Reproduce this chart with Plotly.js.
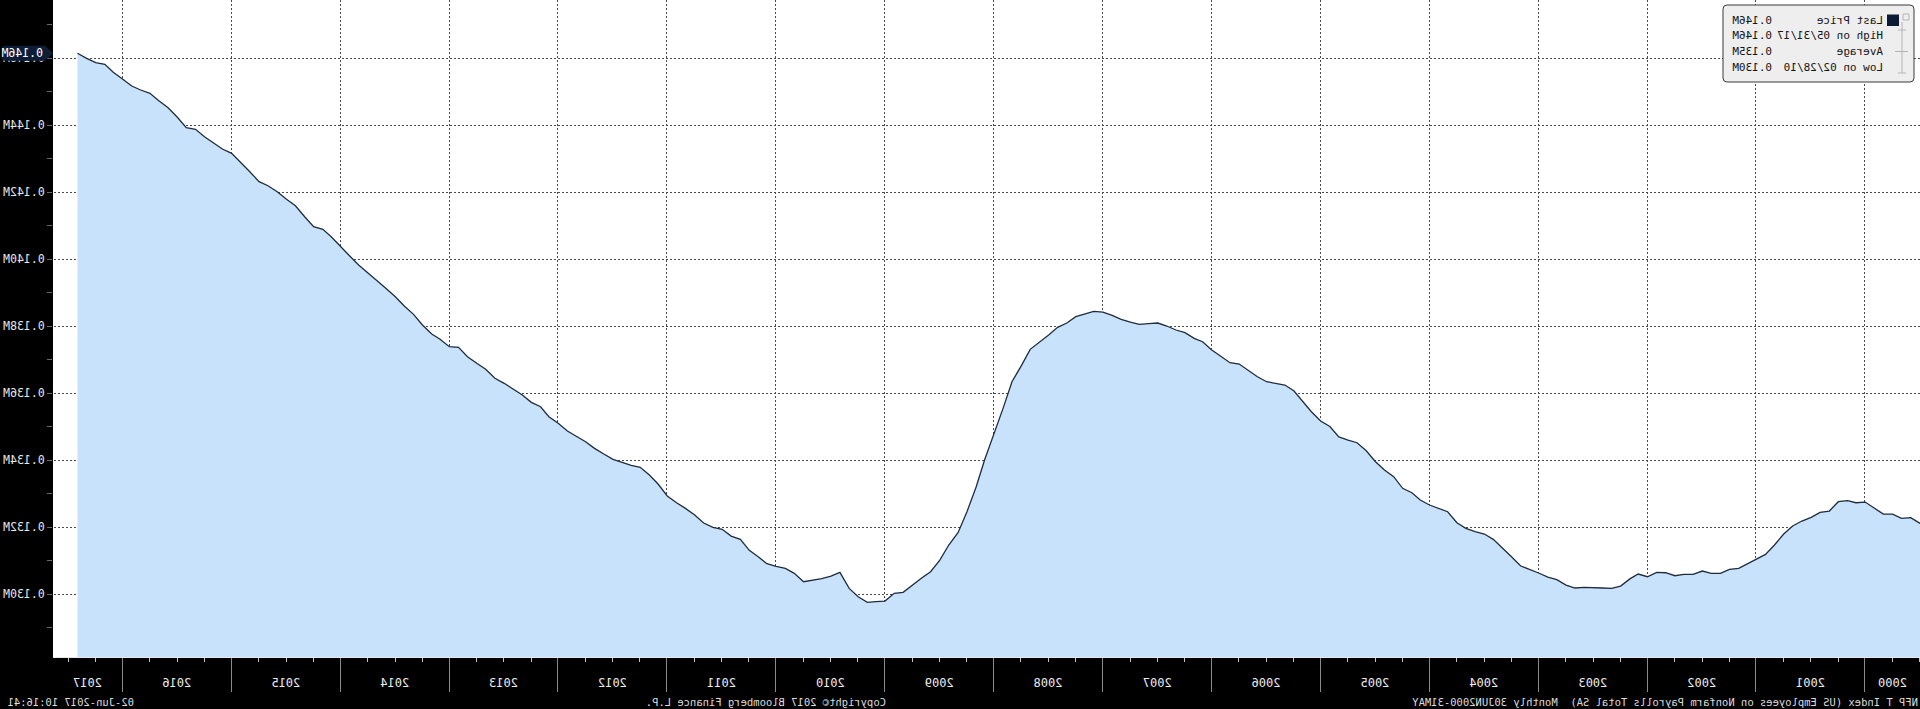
<!DOCTYPE html>
<html>
<head>
<meta charset="utf-8">
<script src="https://cdn.plot.ly/plotly-3.0.1.min.js"></script>
<style>
html,body{margin:0;padding:0;background:#000;overflow:hidden}
#chart{width:1920px;height:709px;transform:scaleX(-1);transform-origin:50% 50%}
</style>
</head>
<body>
<div id="chart"></div>
<script>
// ---- Data: US Nonfarm Payrolls (thousands), monthly, Jun 2000 .. May 2017 ----
const firstYear = 2000;
const firstMonthIndex = 5; // June (0-based)
const nfp2000 = [132120, 132288, 132269, 132397, 132397, 132567, 132755];
const nfp2001 = [132734, 132795, 132765, 132487, 132447, 132298, 132188, 132039, 131800, 131472, 131194, 131054];
const nfp2002 = [130925, 130776, 130746, 130627, 130627, 130696, 130597, 130597, 130556, 130645, 130657, 130526];
const nfp2003 = [130607, 130462, 130248, 130179, 130189, 130209, 130209, 130189, 130278, 130437, 130517, 130637];
const nfp2004 = [130756, 130846, 131123, 131373, 131642, 131800, 131869, 131970, 132138, 132466, 132567, 132666];
const nfp2005 = [132815, 133033, 133165, 133511, 133710, 133958, 134287, 134526, 134606, 134700, 135010, 135173];
const nfp2006 = [135451, 135750, 136078, 136248, 136299, 136347, 136495, 136696, 136875, 136914, 137093, 137293];
const nfp2007 = [137540, 137642, 137810, 137890, 138009, 138099, 138080, 138060, 138128, 138208, 138328, 138427];
const nfp2008 = [138447, 138367, 138287, 138099, 137970, 137740, 137540, 137313, 136820, 136347, 135552, 134755];
const nfp2009 = [134009, 133212, 132466, 131839, 131472, 131024, 130675, 130478, 130278, 130060, 130030, 129800];
const nfp2010 = [129781, 129761, 129929, 130179, 130657, 130547, 130467, 130427, 130376, 130627, 130776, 130836];
const nfp2011 = [130914, 131113, 131313, 131642, 131740, 131940, 132000, 132130, 132368, 132567, 132734, 132935];
const nfp2012 = [133293, 133562, 133791, 133851, 133940, 134030, 134188, 134358, 134556, 134725, 134875, 135105];
const nfp2013 = [135302, 135600, 135731, 135950, 136138, 136299, 136448, 136717, 136896, 137093, 137373, 137391];
const nfp2014 = [137612, 137770, 138039, 138358, 138606, 138884, 139130, 139361, 139600, 139830, 140098, 140397];
const nfp2015 = [140675, 140896, 140973, 141272, 141600, 141791, 142018, 142197, 142317, 142615, 142884, 143164];
const nfp2016 = [143293, 143463, 143660, 143880, 143928, 144239, 144525, 144734, 144955, 145054, 145173, 145382];
const nfp2017 = [145582, 145821, 145869, 146000, 146149];

const yTickValues = [130000, 132000, 134000, 136000, 138000, 140000, 142000, 144000, 146000];
const yearLabels = [2000, 2001, 2002, 2003, 2004, 2005, 2006, 2007, 2008, 2009, 2010, 2011, 2012, 2013, 2014, 2015, 2016, 2017];

const legendNames = ['Last Price', 'High on ', 'Average', 'Low on '];
const titleText = 'NFP T Index (US Employees on Nonfarm Payrolls Total SA)\u00a0 Monthly 30JUN2000-31MAY';
const copyrightText = 'Copyright\u00a9 2017 Bloomberg Finance L.P.';
const stampText = '02-Jun-2017 10:16:41';

// ---- Build series ----
const payrolls = [].concat(nfp2000, nfp2001, nfp2002, nfp2003, nfp2004, nfp2005, nfp2006, nfp2007,
  nfp2008, nfp2009, nfp2010, nfp2011, nfp2012, nfp2013, nfp2014, nfp2015, nfp2016, nfp2017);
const dates = payrolls.map((_, i) => {
  const k = firstMonthIndex + i;
  const y = firstYear + Math.floor(k / 12), m = k % 12;
  return new Date(Date.UTC(y, m + 1, 0)).toISOString().slice(0, 10);
});

const fmtM = v => (v / 1e6).toFixed(3) + 'M';
const fmtD = d => d.slice(5, 7) + '/' + d.slice(8, 10) + '/' + d.slice(2, 4);
const lastV = payrolls[payrolls.length - 1];
let hiI = 0, loI = 0, sum = 0;
payrolls.forEach((v, i) => { if (v >= payrolls[hiI]) hiI = i; if (v < payrolls[loI]) loI = i; sum += v; });
const avgV = sum / payrolls.length;

// ---- Geometry ----
const FIG_W = 1920, FIG_H = 709, MR = 53, MB = 52;
const W = FIG_W - MR, H = FIG_H - MB;
const px = x => x / W;           // pixel -> paper x
const py = y => 1 - y / H;       // pixel -> paper y
const xRange = ['2000-06-30', '2017-08-21'];
const yRange = [128130, 147740];

const r0 = Date.parse(xRange[0]), r1 = Date.parse(xRange[1]);
const labelVals = yearLabels.map(y => {
  const a = Math.max(Date.UTC(y, 0, 1), r0), b = Math.min(Date.UTC(y + 1, 0, 1), r1);
  return new Date((a + b) / 2).toISOString().slice(0, 10);
});

const FONT = 'DejaVu Sans Mono';

const traces = [
  {
    type: 'scatter', mode: 'lines', x: dates, y: payrolls,
    line: { color: '#1f2c3c', width: 1.3 },
    fill: 'tozeroy', fillcolor: '#c9e2fb',
    hoverinfo: 'skip', showlegend: false
  },
  {
    type: 'scatter', mode: 'markers', x: [dates[0]], y: [payrolls[0]], xaxis: 'x2',
    marker: { opacity: 0 }, hoverinfo: 'skip', showlegend: false
  }
];

function roundRect(x0, y0, x1, y1, r) {
  const P = (x, y) => px(x) + ',' + py(y);
  return 'M' + P(x0 + r, y0) + ' L' + P(x1 - r, y0) + ' Q' + P(x1, y0) + ' ' + P(x1, y0 + r) +
    ' L' + P(x1, y1 - r) + ' Q' + P(x1, y1) + ' ' + P(x1 - r, y1) +
    ' L' + P(x0 + r, y1) + ' Q' + P(x0, y1) + ' ' + P(x0, y1 - r) +
    ' L' + P(x0, y0 + r) + ' Q' + P(x0, y0) + ' ' + P(x0 + r, y0) + ' Z';
}
const lastPaperY = (lastV - yRange[0]) / (yRange[1] - yRange[0]);
const iconGrey = '#b4b4b4';

const shapes = [
  // legend box
  { type: 'path', xref: 'paper', yref: 'paper', path: roundRect(6, 5, 197, 82, 4),
    fillcolor: '#eeeeee', line: { color: '#3a3a3a', width: 1 }, layer: 'above' },
  // legend colour square
  { type: 'rect', xref: 'paper', yref: 'paper', x0: px(21), x1: px(33), y0: py(14.5), y1: py(26),
    fillcolor: '#0c1a33', line: { width: 0 }, layer: 'above' },
  // legend tree icons
  { type: 'rect', xref: 'paper', yref: 'paper', x0: px(11), x1: px(17), y0: py(14), y1: py(20),
    fillcolor: 'rgba(0,0,0,0)', line: { color: iconGrey, width: 1 }, layer: 'above' },
  { type: 'line', xref: 'paper', yref: 'paper', x0: px(18), x1: px(18), y0: py(22), y1: py(73),
    line: { color: iconGrey, width: 1 }, layer: 'above' },
  { type: 'line', xref: 'paper', yref: 'paper', x0: px(14), x1: px(22), y0: py(30), y1: py(30),
    line: { color: iconGrey, width: 1 }, layer: 'above' },
  { type: 'line', xref: 'paper', yref: 'paper', x0: px(12), x1: px(25), y0: py(51.5), y1: py(51.5),
    line: { color: iconGrey, width: 1 }, layer: 'above' },
  { type: 'line', xref: 'paper', yref: 'paper', x0: px(14), x1: px(22), y0: py(73), y1: py(73),
    line: { color: iconGrey, width: 1 }, layer: 'above' },
  // last price tag on the axis
  { type: 'path', xref: 'paper', yref: 'paper', xsizemode: 'pixel', ysizemode: 'pixel',
    xanchor: 1, yanchor: lastPaperY,
    path: 'M0,0 L8,7.5 L48,7.5 Q51,7.5 51,4.5 L51,-4.5 Q51,-7.5 48,-7.5 L8,-7.5 Z',
    fillcolor: '#0d1d38', line: { width: 0 }, layer: 'above' }
];

const legendRowsY = [20.5, 35.5, 51.5, 67.5];
const legendLabels = [legendNames[0], legendNames[1] + fmtD(dates[hiI]), legendNames[2], legendNames[3] + fmtD(dates[loI])];
const legendValues = [fmtM(lastV), fmtM(payrolls[hiI]), fmtM(avgV), fmtM(payrolls[loI])];
const legFont = { family: FONT, size: 11, color: '#151515' };
const botFont = { family: FONT, size: 10.5, color: '#dcdcdc' };

const annotations = [];
legendRowsY.forEach((yy, i) => {
  annotations.push({ xref: 'paper', yref: 'paper', x: px(35), y: py(yy), xanchor: 'left', yanchor: 'middle',
    text: legendLabels[i], showarrow: false, font: legFont });
  annotations.push({ xref: 'paper', yref: 'paper', x: px(190), y: py(yy), xanchor: 'right', yanchor: 'middle',
    text: legendValues[i], showarrow: false, font: legFont });
});
annotations.push({ xref: 'paper', yref: 'paper', x: 1, xshift: 8, y: lastPaperY, xanchor: 'left', yanchor: 'middle',
  text: fmtM(lastV), showarrow: false, font: { family: FONT, size: 11.5, color: '#ffffff' } });
annotations.push({ xref: 'paper', yref: 'paper', x: px(0), y: py(702), xanchor: 'left', yanchor: 'middle',
  text: titleText, showarrow: false, font: botFont });
annotations.push({ xref: 'paper', yref: 'paper', x: px(1154), y: py(702), xanchor: 'center', yanchor: 'middle',
  text: copyrightText, showarrow: false, font: botFont });
annotations.push({ xref: 'paper', yref: 'paper', x: px(1914), y: py(702), xanchor: 'right', yanchor: 'middle',
  text: stampText, showarrow: false, font: botFont });

const layout = {
  width: FIG_W, height: FIG_H,
  margin: { l: 0, r: MR, t: 0, b: MB, pad: 0 },
  paper_bgcolor: '#000000', plot_bgcolor: '#ffffff',
  showlegend: false,
  xaxis: {
    type: 'date', range: xRange, fixedrange: true,
    tick0: '2001-01-01', dtick: 'M12', ticks: 'outside', ticklen: 34, tickcolor: '#8a8a8a', tickwidth: 1,
    showticklabels: false,
    showgrid: true, gridcolor: '#4a4a4a', griddash: '2px,2px', gridwidth: 1,
    minor: { ticks: 'outside', ticklen: 4, tickcolor: '#c8c8c8', dtick: 'M3', tick0: '2001-01-01', showgrid: false },
    showline: true, linecolor: '#e8e8e8', linewidth: 1, zeroline: false
  },
  xaxis2: {
    type: 'date', range: xRange, overlaying: 'x', anchor: 'y', side: 'bottom', fixedrange: true,
    tickmode: 'array', tickvals: labelVals, ticktext: yearLabels.map(String),
    ticks: 'outside', ticklen: 15, tickcolor: 'rgba(0,0,0,0)',
    tickfont: { family: FONT, size: 12, color: '#ececec' },
    showgrid: false, zeroline: false, showline: false
  },
  yaxis: {
    range: yRange, side: 'right', fixedrange: true,
    tickmode: 'array', tickvals: yTickValues, ticktext: yTickValues.map(fmtM),
    ticks: 'outside', ticklen: 5, tickcolor: '#6a6a6a',
    minor: { ticks: 'outside', ticklen: 5, tickcolor: '#6a6a6a', dtick: 1000, tick0: 0, showgrid: false },
    tickfont: { family: FONT, size: 11.5, color: '#e6e6e6' },
    showgrid: true, gridcolor: '#4a4a4a', griddash: '2px,2px', gridwidth: 1,
    zeroline: false, showline: false
  },
  shapes: shapes,
  annotations: annotations
};

Plotly.newPlot('chart', traces, layout, { displayModeBar: false, staticPlot: true });
</script>
</body>
</html>
